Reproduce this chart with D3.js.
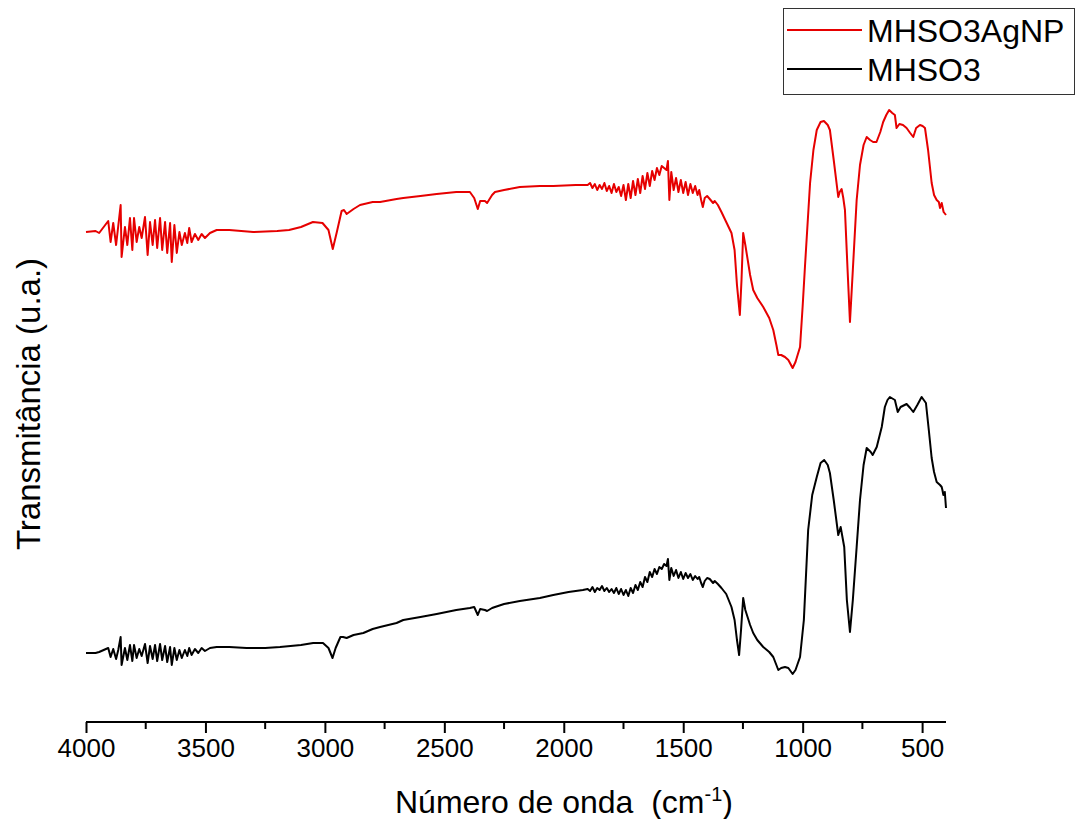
<!DOCTYPE html>
<html>
<head>
<meta charset="utf-8">
<script src="https://cdn.jsdelivr.net/npm/d3@7"></script>
<style>
  body { margin: 0; background: #fff; }
  text { font-family: "Liberation Sans", Arial, sans-serif; fill: #000; }
</style>
</head>
<body>
<div id="chart"></div>
<script>
// wavenumber (cm-1) and transmittance (u.a.)
var seriesNames = ["MHSO3AgNP", "MHSO3"];
var seriesColors = ["#e60000", "#000000"];

var agWn = [4000,3960,3945,3907,3897,3886,3874,3865,3855,3851,3837,3827,3816,3806,3799,3788,3777,3767,3753,3742,
  3732,3721,3711,3702,3690,3681,3669,3660,3648,3641,3630,3620,3609,3599,3586,3576,3568,3558,3544,3530,
  3516,3502,3481,3453,3400,3300,3200,3150,3100,3050,3010,2985,2967,2950,2930,2920,2909,2880,2853,2800,
  2769,2700,2672,2600,2532,2450,2393,2375,2360,2350,2330,2321,2300,2288,2250,2184,2100,2044,1950,1900,
  1890,1880,1870,1860,1850,1840,1830,1820,1810,1800,1790,1780,1770,1760,1750,1740,1730,1720,1710,1700,
  1690,1680,1670,1660,1650,1640,1630,1620,1610,1600,1590,1580,1570,1564,1558,1550,1540,1530,1520,1510,
  1500,1490,1480,1470,1460,1450,1440,1433,1425,1418,1410,1400,1389,1375,1368,1355,1340,1320,1298,1285,
  1275,1263,1256,1249,1240,1220,1207,1190,1165,1140,1123,1110,1102,1090,1074,1060,1042,1030,1011,1000,
  990,969,955,941,925,911,895,886,870,851,845,837,830,823,812,802,790,774,760,745,
  732,718,705,691,675,663,650,638,625,614,607,595,580,565,550,537,525,509,498,488,
  475,460,450,439,430,425,418,410,400];
var agT = [49.0,49.1,48.9,50.1,48.0,49.9,47.7,49.6,51.7,46.5,49.5,47.7,50.4,47.2,50.4,48.0,49.5,48.4,50.5,46.7,
  50.0,47.7,50.2,47.4,50.4,47.2,50.0,46.9,49.9,46.0,49.7,46.9,49.0,47.7,48.9,47.9,49.4,48.0,48.8,48.2,
  48.8,48.4,48.9,49.2,49.2,49.0,49.1,49.2,49.5,50.0,49.9,49.2,47.3,49.0,51.1,51.2,50.8,51.3,51.7,52.0,
  52.0,52.3,52.4,52.6,52.8,53.0,53.0,52.4,51.3,52.1,52.1,51.9,52.7,53.0,53.2,53.5,53.6,53.6,53.7,53.7,
  53.9,53.4,53.8,53.2,53.7,53.3,53.9,53.1,53.6,52.9,53.8,53.0,53.5,52.6,53.7,52.2,53.8,52.4,54.1,52.7,
  54.3,52.9,54.6,53.3,54.9,53.6,55.1,54.2,55.4,54.7,55.6,55.4,55.2,56.1,52.2,55.0,53.2,54.4,53.0,54.2,
  52.9,54.0,52.7,53.8,52.9,53.6,52.7,53.2,52.2,51.5,52.4,52.6,52.3,51.9,52.1,51.7,51.0,50.0,48.9,47.2,
  43.7,40.7,44.2,48.9,47.7,44.7,43.2,42.4,41.5,40.4,39.2,37.7,36.7,36.7,36.5,36.2,35.4,36.0,37.5,41.6,
  45.7,53.9,57.2,59.2,60.0,60.1,59.7,59.2,56.2,52.5,53.0,53.3,52.4,51.2,45.2,40.0,45.2,52.2,55.7,57.7,
  58.5,58.2,58.0,58.0,59.0,60.0,60.7,61.2,60.9,60.7,59.4,59.8,59.7,59.4,58.9,58.5,59.4,59.7,59.6,59.4,
  57.2,53.9,52.7,52.2,52.0,51.4,51.9,51.0,50.7];

var baseWn = [4000,3960,3945,3907,3897,3886,3874,3865,3855,3851,3837,3827,3816,3806,3799,3788,3777,3767,3753,3742,
  3732,3721,3711,3702,3690,3681,3669,3660,3648,3641,3630,3620,3609,3599,3586,3576,3568,3558,3544,3530,
  3516,3502,3481,3453,3400,3328,3250,3188,3100,3049,3008,2985,2968,2955,2935,2924,2909,2880,2839,2800,
  2769,2700,2672,2600,2532,2450,2393,2375,2360,2350,2330,2321,2300,2288,2250,2184,2100,2044,1980,1920,
  1900,1890,1880,1870,1860,1850,1840,1830,1820,1810,1800,1790,1780,1770,1760,1750,1740,1730,1720,1710,
  1700,1690,1680,1670,1660,1650,1640,1630,1620,1610,1600,1590,1580,1570,1564,1558,1550,1540,1530,1520,
  1510,1500,1490,1480,1470,1460,1450,1440,1433,1425,1418,1410,1400,1389,1375,1368,1355,1340,1320,1298,
  1285,1275,1266,1258,1249,1240,1220,1207,1190,1165,1140,1123,1110,1102,1090,1074,1060,1042,1030,1011,
  995,977,960,941,925,910,895,886,870,851,841,826,815,802,790,774,760,745,732,715,
  707,690,669,656,645,635,614,602,590,565,550,537,520,502,484,472,460,450,439,425,
  418,415,411,405,400];
var baseT = [6.9,6.9,7.0,7.4,6.5,7.3,6.3,7.2,8.5,5.7,7.4,6.2,7.7,6.1,7.7,6.4,7.3,6.6,7.8,5.9,
  7.6,6.3,7.7,6.1,7.8,6.2,7.6,6.0,7.5,5.7,7.4,6.2,7.2,6.4,7.2,6.6,7.4,6.7,7.3,6.9,
  7.4,7.1,7.4,7.5,7.5,7.4,7.4,7.5,7.7,7.9,7.9,7.4,6.4,7.4,8.5,8.5,8.4,8.7,8.9,9.3,
  9.5,9.9,10.2,10.5,10.8,11.2,11.4,11.5,10.7,11.3,11.2,11.1,11.4,11.5,11.8,12.1,12.4,12.7,13.0,13.2,
  13.3,13.1,13.5,13.0,13.4,13.2,13.6,13.1,13.4,13.0,13.3,12.9,13.4,12.8,13.3,12.7,13.2,12.6,13.4,12.9,
  13.7,13.2,14.0,13.5,14.5,14.0,15.0,14.5,15.3,14.8,15.5,15.3,15.8,15.6,16.3,14.2,15.4,14.6,15.2,14.4,
  15.0,14.3,14.9,14.4,14.8,14.2,14.6,14.3,14.5,13.9,13.5,14.1,14.4,14.3,13.9,14.1,13.8,13.4,12.8,11.5,
  10.2,8.2,6.7,9.2,12.4,11.2,9.7,8.9,8.2,7.5,7.0,6.5,5.7,5.2,5.4,5.5,5.4,4.8,5.2,6.5,
  10.2,19.2,22.7,24.5,25.9,26.2,25.7,24.9,22.2,18.7,19.5,17.5,12.2,9.0,12.2,17.5,22.2,25.7,27.4,27.0,
  26.7,27.5,29.5,31.5,32.2,32.5,32.2,31.0,31.5,31.8,31.4,31.0,31.7,32.5,31.9,29.2,26.4,25.0,24.0,23.7,
  23.5,23.2,22.7,23.0,21.4];

var xMajor = [4000,3500,3000,2500,2000,1500,1000,500];
var xMinor = [3750,3250,2750,2250,1750,1250,750];

var W = 1078, H = 819;
var svg = d3.select("#chart").append("svg")
  .attr("width", W).attr("height", H);

var x = d3.scaleLinear().domain([4000, 400]).range([86, 946]);
var y = d3.scaleLinear().domain([0, 70]).range([722, 22]);

var series = [
  { name: seriesNames[0], color: seriesColors[0], pts: agWn.map(function(w, i) { return [w, agT[i]]; }) },
  { name: seriesNames[1], color: seriesColors[1], pts: baseWn.map(function(w, i) { return [w, baseT[i]]; }) }
];

var line = d3.line()
  .x(function(d) { return x(d[0]); })
  .y(function(d) { return y(d[1]); });

svg.selectAll(".spec")
  .data(series)
  .enter().append("path")
  .attr("class", "spec")
  .attr("d", function(d) { return line(d.pts); })
  .attr("fill", "none")
  .attr("stroke", function(d) { return d.color; })
  .attr("stroke-width", 2)
  .attr("stroke-linejoin", "round");

// bottom axis
var axisG = svg.append("g").attr("transform", "translate(0,722)");
axisG.call(d3.axisBottom(x).tickValues(xMajor).tickSize(11).tickPadding(6).tickFormat(d3.format("d")));
axisG.select(".domain").attr("stroke-width", 2).attr("d", "M86,0H946");
axisG.selectAll(".tick line").attr("stroke-width", 2);
axisG.selectAll(".tick text").attr("font-size", 26).attr("font-family", "Liberation Sans, Arial, sans-serif").attr("fill", "#000");
axisG.selectAll(".minor")
  .data(xMinor)
  .enter().append("line")
  .attr("class", "minor")
  .attr("x1", function(d) { return x(d); })
  .attr("x2", function(d) { return x(d); })
  .attr("y1", 0).attr("y2", 7)
  .attr("stroke", "#000").attr("stroke-width", 2);

// axis titles
var xt = svg.append("text")
  .attr("x", 395).attr("y", 813)
  .attr("font-size", 32);
xt.append("tspan").text("Número de onda\u00a0 (cm");
xt.append("tspan").attr("font-size", 20).attr("dy", -12).text("-1");
xt.append("tspan").attr("dy", 12).text(")");

svg.append("text")
  .attr("transform", "translate(40,404) rotate(-90)")
  .attr("text-anchor", "middle")
  .attr("font-size", 33)
  .text("Transmitância (u.a.)");

// legend
var lg = svg.append("g");
lg.append("rect")
  .attr("x", 783.5).attr("y", 8.5).attr("width", 291).attr("height", 86)
  .attr("fill", "#fff").attr("stroke", "#333").attr("stroke-width", 1);
var item = lg.selectAll(".item")
  .data(series)
  .enter().append("g")
  .attr("class", "item")
  .attr("transform", function(d, i) { return "translate(0," + (30 + i * 39) + ")"; });
item.append("line")
  .attr("x1", 787).attr("x2", 862).attr("y1", 0).attr("y2", 0)
  .attr("stroke", function(d) { return d.color; }).attr("stroke-width", 2);
item.append("text")
  .attr("x", 867).attr("y", 12)
  .attr("font-size", 32)
  .text(function(d) { return d.name; });
</script>
</body>
</html>
